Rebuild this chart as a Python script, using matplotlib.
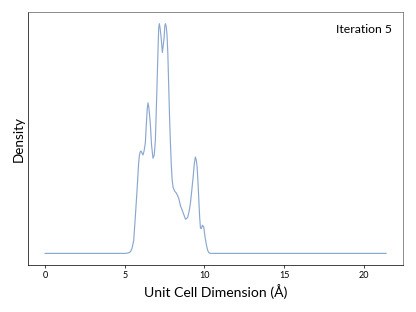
import matplotlib
matplotlib.use("Agg")
import matplotlib.pyplot as plt

plt.rcParams['font.family'] = ['Lato', 'DejaVu Sans']

# density curve (x in Angstrom, arbitrary density units)
cell_dim = [0.0, 2.0, 4.0, 5.0, 5.22, 5.35, 5.45, 5.56, 5.66, 5.77, 5.87, 5.92,
            5.97, 6.02, 6.08, 6.14, 6.21, 6.29, 6.35, 6.41, 6.46, 6.52, 6.60,
            6.68, 6.77, 6.85, 6.92, 6.98, 7.03, 7.08, 7.13, 7.17, 7.22, 7.28,
            7.36, 7.42, 7.47, 7.51, 7.55, 7.60, 7.65, 7.70, 7.75, 7.81, 7.86,
            7.92, 7.97, 8.03, 8.13, 8.24, 8.38, 8.50, 8.60, 8.72, 8.81, 8.88,
            8.95, 9.04, 9.12, 9.20, 9.29, 9.37, 9.43, 9.49, 9.54, 9.59, 9.64,
            9.70, 9.75, 9.81, 9.87, 9.92, 9.96, 10.04, 10.13, 10.20, 10.27,
            10.38, 11.0, 13.0, 16.0, 19.0, 21.4]
density = [0.0, 0.0, 0.0, 0.0, 0.001, 0.004, 0.012, 0.032, 0.09, 0.158, 0.225,
           0.245, 0.253, 0.255, 0.25, 0.245, 0.255, 0.275, 0.32, 0.36, 0.375,
           0.36, 0.325, 0.27, 0.237, 0.245, 0.282, 0.36, 0.428, 0.5, 0.562,
           0.572, 0.56, 0.538, 0.5, 0.52, 0.538, 0.565, 0.572, 0.565, 0.545,
           0.5, 0.428, 0.34, 0.28, 0.22, 0.185, 0.165, 0.155, 0.15, 0.138,
           0.118, 0.108, 0.095, 0.085, 0.087, 0.09, 0.105, 0.125, 0.155, 0.19,
           0.225, 0.24, 0.232, 0.215, 0.18, 0.14, 0.09, 0.063, 0.062, 0.07,
           0.068, 0.065, 0.04, 0.02, 0.008, 0.002, 0.0, 0.0, 0.0, 0.0, 0.0, 0.0]

fig, ax = plt.subplots(figsize=(6.4, 4.8), dpi=65)
fig.subplots_adjust(left=0.0675, right=0.969, bottom=0.151, top=0.961)

ax.plot(cell_dim, density, color='#8aa8cf', lw=1.3)

ax.set_xticks([0, 5, 10, 15, 20])
ax.set_yticks([])
ax.tick_params(axis='x', labelsize=10)
ax.set_xlabel('Unit Cell Dimension (Å)', fontsize=15.5)
ax.set_ylabel('Density', fontsize=15)
ax.text(0.97, 0.93, 'Iteration 5', transform=ax.transAxes,
        ha='right', va='center', fontsize=13.5)

for side in ['top', 'right']:
    ax.spines[side].set_color('#666666')

fig.savefig('out.png', dpi=65)
